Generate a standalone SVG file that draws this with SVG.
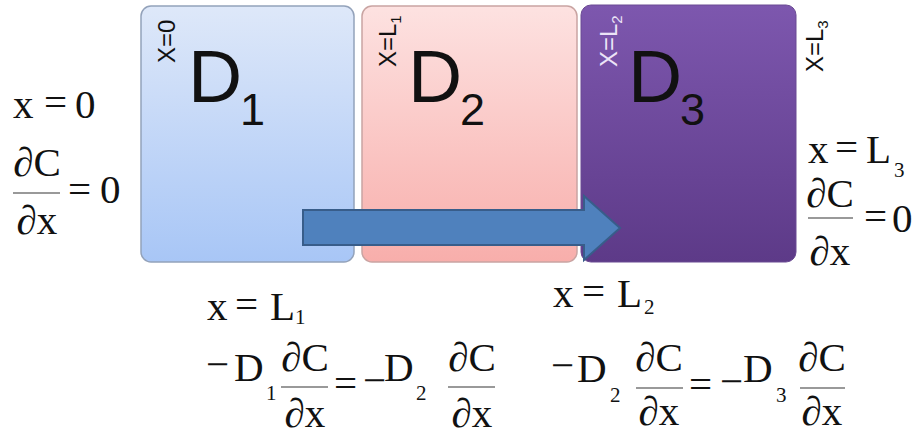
<svg xmlns="http://www.w3.org/2000/svg" width="917" height="435" viewBox="0 0 917 435">
<defs>
<linearGradient id="g1" x1="0" y1="0" x2="0" y2="1"><stop offset="0" stop-color="#dee8f9"/><stop offset="1" stop-color="#a8c6f6"/></linearGradient>
<linearGradient id="g2" x1="0" y1="0" x2="0" y2="1"><stop offset="0" stop-color="#fde2e1"/><stop offset="1" stop-color="#f8aeab"/></linearGradient>
<linearGradient id="g3" x1="0" y1="0" x2="0" y2="1"><stop offset="0" stop-color="#7d57ae"/><stop offset="1" stop-color="#5d3a88"/></linearGradient>
</defs>
<style>
.big{font-family:"Liberation Sans",Arial,sans-serif;font-size:75px;fill:#111}
.bigsub{font-family:"Liberation Sans",Arial,sans-serif;font-size:45px;fill:#111}
.rot{font-family:"Liberation Sans",Arial,sans-serif;font-size:24px;fill:#111}
.rots{font-size:15px}
.m{font-family:"Liberation Serif","Times New Roman",serif;font-size:41px;fill:#111}
.s{font-family:"Liberation Serif","Times New Roman",serif;font-size:21px;fill:#111}
.mid{text-anchor:middle}
.bar{stroke:#777;stroke-width:1.5}
</style>
<rect width="917" height="435" fill="#ffffff"/>
<g id="box1">
<rect x="141" y="6" width="213" height="256" rx="10" fill="url(#g1)" stroke="#93a2ba" stroke-width="1.5"/>
<text class="big" x="188" y="102">D</text>
<text class="bigsub" x="240" y="125">1</text>
<text class="rot" transform="translate(175,63) rotate(-90)">X=0</text>
</g>
<g id="box2">
<rect x="362" y="6" width="215" height="256" rx="10" fill="url(#g2)" stroke="#c9a4a2" stroke-width="1.5"/>
<text class="big" x="408" y="102">D</text>
<text class="bigsub" x="460" y="125">2</text>
<text class="rot" transform="translate(396,67) rotate(-90)">X=L<tspan class="rots" dy="5">1</tspan></text>
</g>
<g id="box3">
<rect x="581" y="5" width="215" height="257" rx="10" fill="url(#g3)" stroke="#6b4b93" stroke-width="1"/>
<text class="big" x="628" y="102">D</text>
<text class="bigsub" x="680" y="125">3</text>
<text class="rot" transform="translate(617,67) rotate(-90)" style="fill:#ece4f7">X=L<tspan class="rots" dy="5">2</tspan></text>
</g>
<g id="connectors">
<polygon points="303,210 584,210 584,196 620,228 584,260 584,245 303,245" fill="#4f81bd" stroke="#385d8a" stroke-width="2" stroke-linejoin="miter"/>
</g>
<g id="label-L3">
<text class="rot" transform="translate(823,72) rotate(-90)">X=L<tspan class="rots" dy="5">3</tspan></text>
</g>
<g id="bc-left">
<text class="m" x="13" y="118">x</text>
<text class="m" x="44" y="116">=</text>
<text class="m" x="75" y="118">0</text>
<text class="m mid" x="37" y="176">∂C</text>
<line class="bar" x1="13" y1="193" x2="60" y2="193"/>
<text class="m mid" x="37" y="234">∂x</text>
<text class="m" x="68" y="203">=</text>
<text class="m" x="100" y="203">0</text>
</g>
<g id="bc-right">
<text class="m" x="808" y="163">x</text>
<text class="m" x="835" y="161">=</text>
<text class="m" x="866" y="163">L</text>
<text class="s" x="894" y="177">3</text>
<text class="m mid" x="830" y="207">∂C</text>
<line class="bar" x1="808" y1="218" x2="853" y2="218"/>
<text class="m mid" x="830" y="265">∂x</text>
<text class="m" x="864" y="230">=</text>
<text class="m" x="892" y="232">0</text>
</g>
<g id="interface-1">
<text class="m" x="207" y="320">x</text>
<text class="m" x="235" y="318">=</text>
<text class="m" x="270" y="320">L</text>
<text class="s" x="295" y="324">1</text>
<text class="m" x="206" y="378">−</text>
<text class="m" x="234" y="381">D</text>
<text class="s" x="266" y="400">1</text>
<text class="m mid" x="305" y="371">∂C</text>
<line class="bar" x1="281" y1="387" x2="328" y2="387"/>
<text class="m mid" x="305" y="427">∂x</text>
<text class="m" x="334" y="397">=</text>
<text class="m" x="363" y="394">−</text>
<text class="m" x="384" y="381">D</text>
<text class="s" x="416" y="400">2</text>
<text class="m mid" x="472" y="371">∂C</text>
<line class="bar" x1="448" y1="387" x2="495" y2="387"/>
<text class="m mid" x="472" y="427">∂x</text>
</g>
<g id="interface-2">
<text class="m" x="553" y="307">x</text>
<text class="m" x="582" y="305">=</text>
<text class="m" x="617" y="307">L</text>
<text class="s" x="644" y="314">2</text>
<text class="m" x="551" y="379">−</text>
<text class="m" x="577" y="382">D</text>
<text class="s" x="610" y="402">2</text>
<text class="m mid" x="659" y="371">∂C</text>
<line class="bar" x1="636" y1="388" x2="683" y2="388"/>
<text class="m mid" x="659" y="425">∂x</text>
<text class="m" x="689" y="398">=</text>
<text class="m" x="720" y="395">−</text>
<text class="m" x="743" y="382">D</text>
<text class="s" x="776" y="402">3</text>
<text class="m mid" x="822" y="371">∂C</text>
<line class="bar" x1="800" y1="388" x2="845" y2="388"/>
<text class="m mid" x="822" y="425">∂x</text>
</g>
</svg>
